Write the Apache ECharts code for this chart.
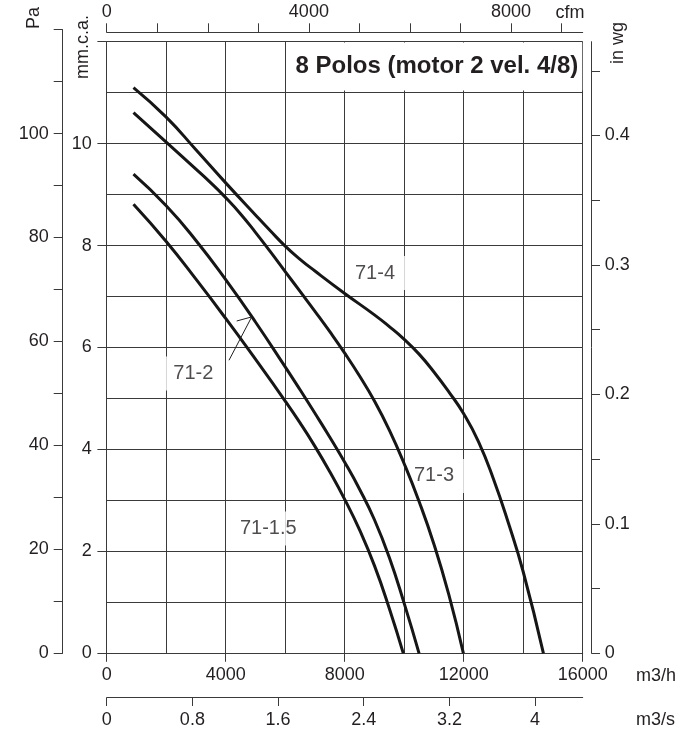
<!DOCTYPE html>
<html>
<head>
<meta charset="utf-8">
<title>8 Polos (motor 2 vel. 4/8)</title>
<script src="https://cdn.jsdelivr.net/npm/echarts@6/dist/echarts.min.js"></script>
<style>
  html, body { margin: 0; padding: 0; background: #fff; }
  #chart { width: 694px; height: 733px; }
</style>
</head>
<body>
<div id="chart"></div>
<script>
// curvas del ventilador: [caudal m3/h, presión mm.c.a.]
const curve71_1_5 = [[900, 8.81], [2000, 8.08], [3000, 7.34], [4000, 6.57], [5000, 5.77], [6000, 4.95],
  [6500, 4.52], [7000, 4.06], [7500, 3.56], [8000, 3.02], [8500, 2.42], [9000, 1.72], [9500, 0.88], [9970, 0]];
const curve71_2 = [[900, 9.4], [2000, 8.78], [3000, 8.1], [4000, 7.33], [5000, 6.5], [6000, 5.62],
  [6500, 5.17], [7000, 4.71], [7500, 4.24], [8000, 3.75], [8500, 3.22], [9000, 2.62], [9500, 1.88],
  [10000, 0.98], [10500, 0]];
const curve71_3 = [[900, 10.61], [2000, 10.03], [3000, 9.5], [3500, 9.23], [4000, 8.94], [4500, 8.62],
  [5000, 8.26], [5500, 7.88], [6000, 7.49], [6500, 7.1], [7000, 6.71], [7500, 6.31], [8000, 5.89],
  [8500, 5.44], [9000, 4.95], [9500, 4.38], [10000, 3.72], [10500, 2.98], [11000, 2.14], [11500, 1.15],
  [11990, 0]];
const curve71_4 = [[900, 11.1], [2000, 10.52], [3000, 9.88], [4000, 9.23], [5000, 8.6], [5500, 8.29],
  [6000, 7.99], [6500, 7.73], [7000, 7.5], [8000, 7.06], [9000, 6.64], [9500, 6.41], [10000, 6.16],
  [10500, 5.87], [11000, 5.52], [11500, 5.13], [12000, 4.7], [12500, 4.15], [13000, 3.42], [13500, 2.56],
  [14000, 1.6], [14680, 0]];

const curveNames = ['71-1.5', '71-2', '71-3', '71-4'];
const curveData = [curve71_1_5, curve71_2, curve71_3, curve71_4];

// dónde va el rótulo de cada curva (m3/h, mm.c.a.)
const labelAnchors = [[5466, 2.45], [2945, 5.49], [11035, 3.48], [9052, 7.46]];
// flecha del rótulo 71-2
const leader71_2 = [[4111, 5.75], [4874, 6.6], [4370, 6.52]];

const titleText = '8 Polos (motor 2 vel. 4/8)';

// escalas
const flowMax = 16000;            // m3/h
const mmMax = 12;                 // mm.c.a.
const paMax = 120;                // Pa
const M3H_PER_M3S = 3600;
const M3H_PER_CFM = 1.699;
const MM_PER_INWG = 25.4;
const PA_PER_MM = 9.80665;

// layout (px)
const W = 694, H = 733;
const plotL = 106.7, plotR = 582.7, plotT = 41.7, plotB = 653.3;
const pxPerMm = (plotB - plotT) / mmMax;
const paTop = plotB - paMax / PA_PER_MM * pxPerMm;

const FONT = '"Liberation Sans", Arial, Helvetica, sans-serif';
const INK = '#231f20';
const GRID = '#3a3a3a';

const chart = echarts.init(document.getElementById('chart'));

const lineStyle = { color: GRID, width: 1 };
const baseLabel = { color: INK, fontSize: 18, fontFamily: FONT };
const axisLine = { show: true, onZero: false, lineStyle };

const option = {
  animation: false,
  backgroundColor: '#fff',
  title: {
    text: titleText,
    left: 287.5,
    top: 42.6,
    padding: [12, 4, 12, 8],
    backgroundColor: '#fff',
    textStyle: { fontSize: 24, fontWeight: 'bold', color: INK, fontFamily: FONT }
  },
  grid: [
    { left: plotL, right: W - plotR, top: plotT, bottom: H - plotB },
    { left: 62.7, right: W - plotR, top: paTop, bottom: H - plotB }
  ],
  xAxis: [
    {
      gridIndex: 0, type: 'value', position: 'bottom',
      min: 0, max: flowMax, interval: 4000,
      axisLine,
      axisTick: { show: true, inside: false, length: 8.5, lineStyle },
      axisLabel: { ...baseLabel, margin: 13, showMinLabel: true, showMaxLabel: true,
        formatter: v => String(v) },
      splitLine: { show: true, lineStyle },
      minorTick: { show: false, splitNumber: 2 },
      minorSplitLine: { show: true, lineStyle }
    },
    {
      gridIndex: 0, type: 'value', position: 'bottom', offset: 44.4,
      min: 0, max: flowMax / M3H_PER_M3S, interval: 0.8,
      axisLine,
      axisTick: { show: true, inside: false, length: 8.3, lineStyle },
      axisLabel: { ...baseLabel, margin: 13, showMaxLabel: false,
        formatter: v => String(parseFloat(v.toFixed(1))) },
      splitLine: { show: false }
    },
    {
      gridIndex: 0, type: 'value', position: 'top', offset: 9.4,
      min: 0, max: flowMax / M3H_PER_CFM, interval: 1000,
      axisLine,
      axisTick: { show: true, inside: false, length: 9, lineStyle },
      axisLabel: { ...baseLabel, margin: 11, showMaxLabel: false,
        formatter: v => (v % 4000 === 0 ? String(v) : '') },
      splitLine: { show: false }
    },
    { gridIndex: 1, type: 'value', show: false, min: 0, max: 1 }
  ],
  yAxis: [
    {
      gridIndex: 0, type: 'value', position: 'left',
      min: 0, max: mmMax, interval: 2,
      axisLine,
      axisTick: { show: true, inside: false, length: 9.3, lineStyle },
      axisLabel: { ...baseLabel, margin: 15, showMaxLabel: true,
        formatter: v => (v < mmMax ? String(v) : '') },
      splitLine: { show: true, lineStyle },
      minorTick: { show: false, splitNumber: 2 },
      minorSplitLine: { show: true, lineStyle }
    },
    {
      gridIndex: 0, type: 'value', position: 'right', offset: 9,
      min: 0, max: mmMax / MM_PER_INWG, interval: 0.05,
      axisLine,
      axisTick: { show: true, inside: false, length: 8.3, lineStyle },
      axisLabel: { ...baseLabel, margin: 13, showMaxLabel: false,
        formatter: v => { const c = Math.round(v * 100); return c % 10 === 0 ? String(c / 100) : ''; } },
      splitLine: { show: false }
    },
    {
      gridIndex: 1, type: 'value', position: 'left',
      min: 0, max: paMax, interval: 10,
      axisLine,
      axisTick: { show: true, inside: false, length: 9, lineStyle },
      axisLabel: { ...baseLabel, margin: 14, showMaxLabel: true,
        formatter: v => (v % 20 === 0 && v < paMax ? String(v) : '') },
      splitLine: { show: false }
    }
  ],
  graphic: [
    { type: 'text', x: 34, y: 18, rotation: Math.PI / 2,
      style: { text: 'Pa', fill: INK, font: '18px ' + FONT, align: 'center', verticalAlign: 'middle' } },
    { type: 'text', x: 83, y: 47, rotation: Math.PI / 2,
      style: { text: 'mm.c.a.', fill: INK, font: '18px ' + FONT, align: 'center', verticalAlign: 'middle' } },
    { type: 'text', x: 618, y: 43, rotation: Math.PI / 2,
      style: { text: 'in wg', fill: INK, font: '18px ' + FONT, align: 'center', verticalAlign: 'middle' } },
    { type: 'text', x: 570, y: 13,
      style: { text: 'cfm', fill: INK, font: '18px ' + FONT, align: 'center', verticalAlign: 'middle' } },
    { type: 'text', x: 636, y: 676,
      style: { text: 'm3/h', fill: INK, font: '18px ' + FONT, align: 'left', verticalAlign: 'middle' } },
    { type: 'text', x: 636, y: 720,
      style: { text: 'm3/s', fill: INK, font: '18px ' + FONT, align: 'left', verticalAlign: 'middle' } }
  ],
  series: [
    ...curveData.map((data, i) => ({
      name: curveNames[i],
      type: 'line',
      xAxisIndex: 0, yAxisIndex: 0,
      data: data,
      smooth: 0.5,
      showSymbol: false,
      symbol: 'none',
      z: 4,
      lineStyle: { color: '#161616', width: 3 }
    })),
    {
      name: 'rótulos',
      type: 'scatter',
      xAxisIndex: 0, yAxisIndex: 0,
      symbolSize: 1,
      z: 3,
      silent: true,
      itemStyle: { color: 'rgba(0,0,0,0)' },
      data: labelAnchors.map((p, i) => ({ value: p, name: curveNames[i] })),
      label: {
        show: true, position: 'inside',
        formatter: p => p.name,
        color: INK, fontSize: 20, fontFamily: FONT,
        backgroundColor: '#fff',
        padding: [7, 11, 7, 9]
      }
    },
    {
      name: 'flecha 71-2',
      type: 'line',
      xAxisIndex: 0, yAxisIndex: 0,
      data: leader71_2,
      showSymbol: false,
      symbol: 'none',
      z: 5,
      silent: true,
      lineStyle: { color: INK, width: 1 }
    }
  ]
};

chart.setOption(option);
</script>
</body>
</html>
